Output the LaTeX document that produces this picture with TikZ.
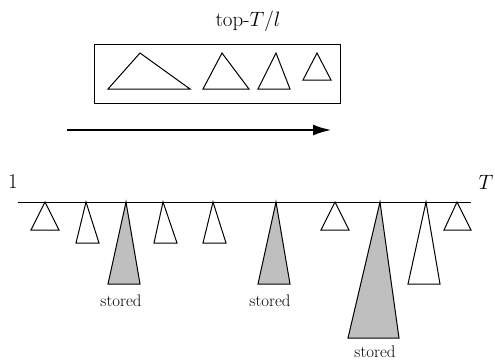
\documentclass[tikz,border=0pt]{standalone}
\usepackage{fontspec}
\usetikzlibrary{arrows.meta}
\begin{document}
\begin{tikzpicture}[x=1pt,y=-1pt,
  tri/.style={draw=black,line width=1pt,line join=miter},
  storedtri/.style={tri,fill=black!25},
  lbl/.style={inner sep=0pt,font=\fontsize{21}{25}\selectfont},
  storedlbl/.style={inner sep=0pt,font=\fontsize{16.8}{20}\selectfont},
  trackline/.style={line width=1pt},
  flow/.style={line width=2.8pt,-{Latex[length=19pt,width=11pt]}}]
\useasboundingbox (0,0) rectangle (495,360);
% title and box
\node[lbl] (title) at (248,21) {top-$T/l$};
\draw[tri] (94,44) rectangle (340,103);
\draw[tri] (108,89) -- (140,53) -- (190,89) -- cycle;
\draw[tri] (203,89) -- (222,53) -- (249,89) -- cycle;
\draw[tri] (258,89) -- (276,53) -- (290,89) -- cycle;
\draw[tri] (303,80) -- (317,53) -- (331,80) -- cycle;
% arrow
\coordinate (a0) at (67,130);
\coordinate (a1) at (332,130);
\draw[flow] (a0) -- (a1);
% track
\node[lbl] (one) at (13,182) {1};
\node[lbl] (tend) at (486,182) {$T$};
\coordinate (l0) at (18,202);
\coordinate (l1) at (471,202);
\draw[trackline] (l0) -- (l1);
% hanging triangles
\draw[tri] (45,202) -- (59,230) -- (31,230) -- cycle;
\draw[tri] (86,202) -- (99,243) -- (76,243) -- cycle;
\draw[storedtri] (126,202) -- (140,284) -- (108,284) -- cycle;
\draw[tri] (163,202) -- (177,243) -- (154,243) -- cycle;
\draw[tri] (213,202) -- (226,243) -- (203,243) -- cycle;
\draw[storedtri] (276,202) -- (290,284) -- (258,284) -- cycle;
\draw[tri] (335,202) -- (349,230) -- (321,230) -- cycle;
\draw[storedtri] (380,202) -- (399,338) -- (348,338) -- cycle;
\draw[tri] (426,202) -- (440,284) -- (408,284) -- cycle;
\draw[tri] (457,202) -- (471,230) -- (444,230) -- cycle;
% labels
\node[storedlbl] (s1) at (121,301) {stored};
\node[storedlbl] (s2) at (270,301) {stored};
\node[storedlbl] (s3) at (375,352) {stored};
\end{tikzpicture}
\end{document}
